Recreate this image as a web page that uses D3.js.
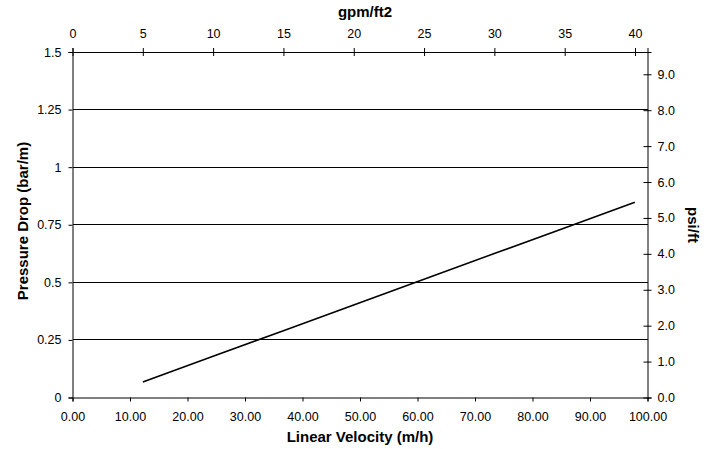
<!DOCTYPE html>
<html><head><meta charset="utf-8">
<script src="https://cdn.jsdelivr.net/npm/d3@7"></script>
<style>body{margin:0;background:#fff;} text{font-family:"Liberation Sans",Arial,sans-serif;}</style>
</head><body>
<svg id="c" width="708" height="449"></svg>
<script>
// Data
const velocity = [12.23, 24.45, 36.68, 48.90, 61.13, 73.35, 85.58, 97.80]; // m/h
const pressure = [0.067, 0.179, 0.290, 0.402, 0.513, 0.625, 0.736, 0.848]; // bar/m
const bottomTicks = [0,10,20,30,40,50,60,70,80,90,100];
const leftTicks = [0,0.25,0.5,0.75,1,1.25,1.5];
const topTicks = [0,5,10,15,20,25,30,35,40];
const rightTicks = [0,1,2,3,4,5,6,7,8,9];

const svg = d3.select("#c");
const L=72.5, R=647.5, T=52, B=397.5;
const x = d3.scaleLinear().domain([0,100]).range([L,R]);
const y = d3.scaleLinear().domain([0,1.5]).range([B,T]);
const xTop = d3.scaleLinear().domain([0,40.89]).range([L,R]);
const yR = d3.scaleLinear().domain([0,9.62]).range([B,T]);

// gridlines
svg.append("g").selectAll("line").data(leftTicks.filter(d=>d>0&&d<1.5)).join("line")
  .attr("x1",L).attr("x2",R).attr("y1",d=>y(d)).attr("y2",d=>y(d))
  .attr("stroke","#000").attr("stroke-width",1).attr("shape-rendering","crispEdges");

// axes
const fs = "12.5px";
const gB = svg.append("g").attr("transform",`translate(0,${B})`)
  .call(d3.axisBottom(x).tickValues(bottomTicks).tickFormat(d3.format(".2f")).tickSizeOuter(0).tickSize(4).tickPadding(11));
const gL = svg.append("g").attr("transform",`translate(${L},0)`)
  .call(d3.axisLeft(y).tickValues(leftTicks).tickFormat(d=>String(d)).tickSizeOuter(0).tickSize(4).tickPadding(7));
const gT = svg.append("g").attr("transform",`translate(0,${T})`)
  .call(d3.axisTop(xTop).tickValues(topTicks).tickSizeOuter(0).tickSize(4).tickPadding(10));
const gR = svg.append("g").attr("transform",`translate(${R},0)`)
  .call(d3.axisRight(yR).tickValues(rightTicks).tickFormat(d3.format(".1f")).tickSizeOuter(0).tickSize(4).tickPadding(6));
// crossing ticks for top and right
gT.selectAll(".tick line").attr("y1",4);
gR.selectAll(".tick line").attr("x1",-4);
[gB,gL,gT,gR].forEach(g=>{
  g.selectAll("text").attr("font-size",fs).attr("fill","#000").attr("font-family","Liberation Sans, Arial, sans-serif");
  g.selectAll("line").attr("stroke","#000");
  g.select(".domain").attr("stroke","#000");
});

// data line
svg.append("path").datum(velocity.map((v,i)=>[v,pressure[i]]))
  .attr("d", d3.line().x(d=>x(d[0])).y(d=>y(d[1])))
  .attr("fill","none").attr("stroke","#000").attr("stroke-width",1.6);

// titles
svg.append("text").attr("x",365).attr("y",17).attr("text-anchor","middle")
  .attr("font-size","15px").attr("font-weight","bold").text("gpm/ft2");
svg.append("text").attr("x",360).attr("y",442).attr("text-anchor","middle")
  .attr("font-size","15px").attr("font-weight","bold").text("Linear Velocity (m/h)");
svg.append("text").attr("transform","translate(28,221) rotate(-90)").attr("text-anchor","middle")
  .attr("font-size","15px").attr("font-weight","bold").text("Pressure Drop (bar/m)");
svg.append("text").attr("transform","translate(688,225) rotate(90)").attr("text-anchor","middle")
  .attr("font-size","15px").attr("font-weight","bold").text("psi/ft");
</script>
</body></html>
